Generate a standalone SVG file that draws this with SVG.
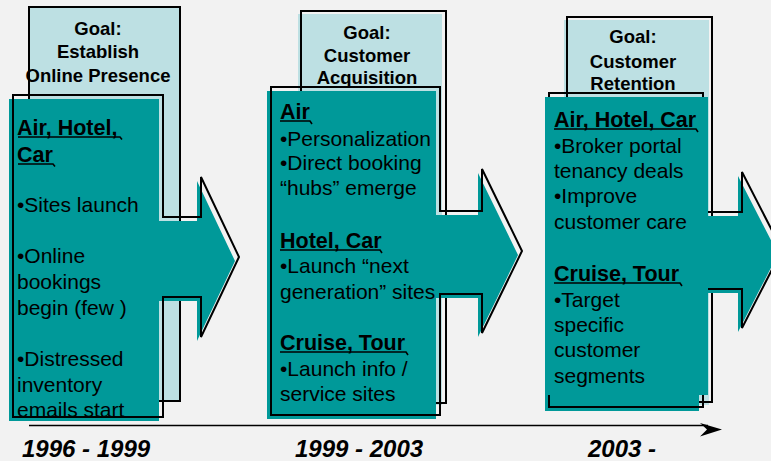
<svg xmlns="http://www.w3.org/2000/svg" width="771" height="461" viewBox="0 0 771 461">
  <defs>
    <style>
      .bg { fill: #F2F2F2; }
      .goal-fill { fill: #BDE0E3; }
      .outline { fill: none; stroke: #000; stroke-width: 2; stroke-linejoin: miter; }
      .teal { fill: #009999; }
      .goal-text { font-family: "Liberation Sans", Arial, sans-serif; font-size: 18.5px; font-weight: bold; fill: #000; text-anchor: middle; }
      .head { font-family: "Liberation Sans", Arial, sans-serif; font-size: 21.5px; font-weight: bold; fill: #000; }
      .body { font-family: "Liberation Sans", Arial, sans-serif; font-size: 21px; fill: #000; }
      .ul { fill: none; stroke: #000; stroke-width: 1.6; }
      .year { font-family: "Liberation Sans", Arial, sans-serif; font-size: 24px; font-weight: bold; font-style: italic; fill: #000; }
    </style>
  </defs>

  <rect class="bg" x="0" y="0" width="771" height="461"/>

  <!-- Stage 1: 1996 - 1999 -->
  <g id="stage1">
    <rect class="goal-fill" x="28" y="8" width="151" height="394"/>
    <rect class="outline" x="29" y="7" width="151" height="394"/>
    <polygon class="teal" points="9,99 159,99 159,221 197,221 197,181 235,261 197,341 197,301 159,301 159,421 9,421"/>
    <polygon class="outline" points="13,95 163,95 163,217 201,217 201,177 239,257 201,337 201,297 163,297 163,417 13,417"/>
    <text class="goal-text" x="98" y="35">Goal:</text>
    <text class="goal-text" x="98" y="58">Establish</text>
    <text class="goal-text" x="98" y="82">Online Presence</text>
    <text class="head" x="17" y="135">Air, Hotel,</text>
    <path class="ul" d="M18,137 H120 L122,139.5"/>
    <text class="head" x="17" y="162">Car</text>
    <path class="ul" d="M18,164 H53 L55,166.5"/>
    <text class="body" x="17" y="212">•Sites launch</text>
    <text class="body" x="17" y="263">•Online</text>
    <text class="body" x="17" y="289">bookings</text>
    <text class="body" x="17" y="315">begin (few )</text>
    <text class="body" x="17" y="366">•Distressed</text>
    <text class="body" x="17" y="392">inventory</text>
    <text class="body" x="17" y="417">emails start</text>
  </g>

  <!-- Stage 2: 1999 - 2003 -->
  <g id="stage2">
    <rect class="goal-fill" x="298" y="14" width="144" height="391"/>
    <rect class="outline" x="301" y="11" width="145" height="392"/>
    <polygon class="teal" points="267,91 436,91 436,215 478,215 478,173 518,255 478,337 478,298 436,298 436,419 267,419"/>
    <polygon class="outline" points="271,87 440,87 440,211 482,211 482,169 522,251 482,333 482,294 440,294 440,415 271,415"/>
    <text class="goal-text" x="367" y="39">Goal:</text>
    <text class="goal-text" x="367" y="62">Customer</text>
    <text class="goal-text" x="367" y="84">Acquisition</text>
    <text class="head" x="280" y="119">Air</text>
    <path class="ul" d="M280,121 H310 L312,124"/>
    <text class="body" x="280" y="146">•Personalization</text>
    <text class="body" x="280" y="170">•Direct booking</text>
    <text class="body" x="280" y="195">“hubs” emerge</text>
    <text class="head" x="280" y="248">Hotel, Car</text>
    <path class="ul" d="M280,250 H380 L382,253"/>
    <text class="body" x="280" y="273">•Launch “next</text>
    <text class="body" x="280" y="299">generation” sites</text>
    <text class="head" x="280" y="350">Cruise, Tour</text>
    <path class="ul" d="M280,352 H406 L408,355"/>
    <text class="body" x="280" y="376">•Launch info /</text>
    <text class="body" x="280" y="401">service sites</text>
  </g>

  <!-- Stage 3: 2003 - -->
  <g id="stage3">
    <rect class="goal-fill" x="564" y="20" width="145" height="385"/>
    <rect class="outline" x="567" y="17" width="145" height="385"/>
    <polygon class="teal" points="545,97 699,97 699,216 738,216 738,176 778,254 738,332 738,293 699,293 699,411 545,411"/>
    <polygon class="outline" points="549,93 703,93 703,212 742,212 742,172 782,250 742,328 742,289 703,289 703,407 549,407"/>
    <!-- text panel sits over the shape outline -->
    <rect class="teal" x="545" y="97" width="163" height="298"/>
    <text class="goal-text" x="633" y="43">Goal:</text>
    <text class="goal-text" x="633" y="68">Customer</text>
    <text class="goal-text" x="633" y="90">Retention</text>
    <text class="head" x="554" y="127">Air, Hotel, Car</text>
    <path class="ul" d="M554,129 H696 L698,132"/>
    <text class="body" x="554" y="153">•Broker portal</text>
    <text class="body" x="554" y="178">tenancy deals</text>
    <text class="body" x="554" y="203">•Improve</text>
    <text class="body" x="554" y="229">customer care</text>
    <text class="head" x="554" y="281">Cruise, Tour</text>
    <path class="ul" d="M554,283 H680 L682,286"/>
    <text class="body" x="554" y="307">•Target</text>
    <text class="body" x="554" y="332">specific</text>
    <text class="body" x="554" y="357">customer</text>
    <text class="body" x="554" y="383">segments</text>
  </g>

  <!-- Timeline -->
  <g id="connectors">
    <line x1="29" y1="425.5" x2="708" y2="425.5" stroke="#000" stroke-width="1.6"/>
    <path d="M700,423 L722,429.5 L700,436.5 L707,429.5 Z" fill="#000"/>
  </g>

  <g id="years">
    <text class="year" x="22" y="457">1996 - 1999</text>
    <text class="year" x="295" y="457">1999 - 2003</text>
    <text class="year" x="588" y="457">2003 -</text>
  </g>
</svg>
